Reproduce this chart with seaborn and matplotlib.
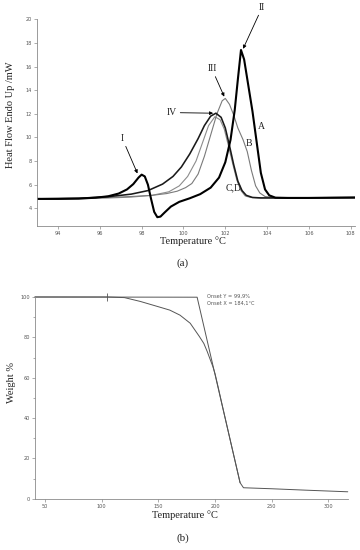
import matplotlib
matplotlib.use("Agg")
import matplotlib.pyplot as plt
import seaborn as sns

# --- (a) DSC curves -------------------------------------------------------
a_temp = [93.0, 94.0, 95.0, 95.8, 96.4, 96.9, 97.3, 97.6, 97.85, 98.0, 98.15, 98.3,
          98.45, 98.6, 98.75, 98.9, 99.1, 99.4, 99.8, 100.3, 100.8, 101.3, 101.7,
          102.0, 102.25, 102.45, 102.6, 102.75, 102.9, 103.1, 103.3, 103.5, 103.7,
          103.9, 104.1, 104.4, 105.0, 106.0, 107.0, 108.2]
a_flow = [4.80, 4.80, 4.82, 4.90, 5.02, 5.25, 5.60, 6.05, 6.60, 6.85, 6.70, 6.00,
          4.80, 3.70, 3.25, 3.30, 3.65, 4.15, 4.55, 4.85, 5.20, 5.75, 6.60,
          7.90, 9.80, 12.3, 14.9, 17.4, 16.6, 14.4, 12.2, 9.6, 7.0,
          5.6, 5.1, 4.9, 4.88, 4.88, 4.9, 4.92]

b_temp = [93.0, 95.0, 96.5, 97.5, 98.5, 99.2, 99.7, 100.1, 100.4, 100.7, 101.0, 101.3,
          101.6, 101.85, 102.0, 102.2, 102.4, 102.6, 102.85, 103.05, 103.25, 103.45,
          103.65, 103.9, 104.3, 105.5, 108.2]
b_flow = [4.80, 4.85, 4.92, 5.00, 5.10, 5.25, 5.45, 5.75, 6.10, 6.90, 8.40, 10.2,
          12.0, 13.1, 13.3, 12.8, 11.9, 10.8, 9.8, 8.8, 7.2, 5.9,
          5.3, 5.0, 4.92, 4.9, 4.92]

c_temp = [93.0, 95.0, 96.5, 97.5, 98.3, 99.0, 99.5, 99.9, 100.3, 100.7, 101.0, 101.3,
          101.55, 101.8, 102.0, 102.2, 102.4, 102.6, 102.8, 103.0, 103.3, 103.7,
          105.0, 108.2]
c_flow = [4.80, 4.85, 5.00, 5.20, 5.50, 6.05, 6.70, 7.50, 8.60, 9.90, 11.0, 11.8,
          12.05, 11.7, 10.8, 9.3, 7.7, 6.3, 5.5, 5.1, 4.92, 4.88,
          4.88, 4.9]

d_temp = [93.0, 95.0, 96.5, 97.5, 98.5, 99.3, 99.8, 100.2, 100.6, 100.9, 101.2, 101.5,
          101.75, 101.95, 102.15, 102.35, 102.55, 102.75, 102.95, 103.2, 103.6,
          105.0, 108.2]
d_flow = [4.80, 4.82, 4.88, 4.95, 5.10, 5.40, 5.90, 6.70, 8.00, 9.50, 11.0, 11.75,
          11.5, 10.7, 9.3, 7.8, 6.4, 5.5, 5.05, 4.92, 4.88,
          4.88, 4.9]

dsc_xticks = [94, 96, 98, 100, 102, 104, 106, 108]
dsc_yticks = [4, 6, 8, 10, 12, 14, 16, 18, 20]

# --- (b) TGA curve ----------------------------------------------------------
tga_temp = [41, 80, 105, 120, 134, 151, 160, 169, 178, 186, 190, 193, 196, 198, 200,
            203, 206, 215, 222, 225, 250, 280, 317]
tga_weight = [100, 100, 100, 99.7, 97.8, 95, 93.5, 91, 87, 80.5, 77, 73, 68.5, 65.5,
              61.8, 54.5, 47, 25, 8, 5.5, 5, 4.3, 3.5]
tangent_temp = [41, 184.1, 222]
tangent_weight = [100, 99.9, 8]
onset_text = "Onset Y = 99,9%\nOnset X = 184,1°C"

tga_xticks = [50, 100, 150, 200, 250, 300]
tga_yticks = [0, 20, 40, 60, 80, 100]

sns.set_theme(style="white")
plt.rcParams["font.family"] = ["DejaVu Sans"]
SERIF = ["Liberation Serif", "DejaVu Serif"]
GREY = "#8a8a8a"

fig = plt.figure(figsize=(3.6, 5.5), dpi=100)


def _style(ax):
    for s in ("top", "right"):
        ax.spines[s].set_visible(False)
    for s in ("left", "bottom"):
        ax.spines[s].set_color(GREY)
        ax.spines[s].set_linewidth(0.6)
    ax.tick_params(axis="both", which="both", length=2, width=0.5, color=GREY,
                   labelsize=3.6, labelcolor="#555555", pad=1.5,
                   bottom=True, left=True)


# ---- panel (a) ----
ax1 = fig.add_axes([0.103, 0.589, 0.883, 0.376])
sns.lineplot(x=d_temp, y=d_flow, ax=ax1, color="#8c8c8c", linewidth=0.8, sort=False, estimator=None)
sns.lineplot(x=b_temp, y=b_flow, ax=ax1, color="#7a7a7a", linewidth=0.8, sort=False, estimator=None)
sns.lineplot(x=c_temp, y=c_flow, ax=ax1, color="#1a1a1a", linewidth=1.15, sort=False, estimator=None)
sns.lineplot(x=a_temp, y=a_flow, ax=ax1, color="black", linewidth=1.5, sort=False, estimator=None)

ax1.set_xlim(93.0, 108.2)
ax1.set_ylim(2.5, 20)
ax1.set_xticks(dsc_xticks)
ax1.set_yticks(dsc_yticks)
_style(ax1)
ax1.set_xlabel("Temperature °C", family=SERIF, fontsize=7.5, color="#222222")
ax1.set_ylabel("Heat Flow Endo Up /mW", family=SERIF, fontsize=7.5, color="#222222")
ax1.xaxis.set_label_coords(0.49, -0.05)
ax1.yaxis.set_label_coords(-0.07, 0.54)

arrow = dict(arrowstyle="-|>", color="black", lw=0.6, mutation_scale=5, shrinkA=0, shrinkB=0)
txt = dict(family=SERIF, fontsize=7, color="#222222", ha="center", va="center")
ax1.annotate("I", xy=(97.8, 6.95), xytext=(97.08, 9.9), arrowprops=arrow, **txt)
ax1.annotate("II", xy=(102.85, 17.5), xytext=(103.76, 21.0), arrowprops=arrow,
             annotation_clip=False, **txt)
ax1.annotate("III", xy=(101.95, 13.45), xytext=(101.36, 15.8), arrowprops=arrow, **txt)
ax1.annotate("IV", xy=(101.42, 12.05), xytext=(99.45, 12.1), arrowprops=arrow, **txt)
ax1.text(103.72, 10.95, "A", **txt)
ax1.text(103.13, 9.5, "B", **txt)
ax1.text(102.42, 5.75, "C,D", **txt)

fig.text(0.508, 1 - 263 / 550, "(a)", family=SERIF, fontsize=8, ha="center", va="center")

# ---- panel (b) ----
ax2 = fig.add_axes([0.097, 0.093, 0.869, 0.367])
sns.lineplot(x=tangent_temp, y=tangent_weight, ax=ax2, color="#555555", linewidth=0.7,
             sort=False, estimator=None)
sns.lineplot(x=tga_temp, y=tga_weight, ax=ax2, color="#555555", linewidth=0.7,
             sort=False, estimator=None)
ax2.plot([105], [100], marker="|", markersize=6, color="#555555", markeredgewidth=0.6,
         clip_on=False)
for ln in ax2.lines:
    ln.set_clip_on(False)

ax2.set_xlim(41, 317)
ax2.set_ylim(0, 100)
ax2.set_xticks(tga_xticks)
ax2.set_yticks(tga_yticks)
ax2.set_yticks(range(10, 100, 20), minor=True)
_style(ax2)
ax2.tick_params(axis="y", which="minor", length=1.5)
ax2.set_xlabel("Temperature °C", family=SERIF, fontsize=7.5, color="#222222")
ax2.set_ylabel("Weight %", family=SERIF, fontsize=7.5, color="#222222")
ax2.xaxis.set_label_coords(0.48, -0.055)
ax2.yaxis.set_label_coords(-0.06, 0.574)
ax2.text(192.6, 101.5, onset_text, fontsize=3.6, color="#555555", ha="left", va="top",
         linespacing=1.5)

fig.text(0.508, 1 - 538 / 550, "(b)", family=SERIF, fontsize=8, ha="center", va="center")

fig.savefig("out.png", dpi=100)
